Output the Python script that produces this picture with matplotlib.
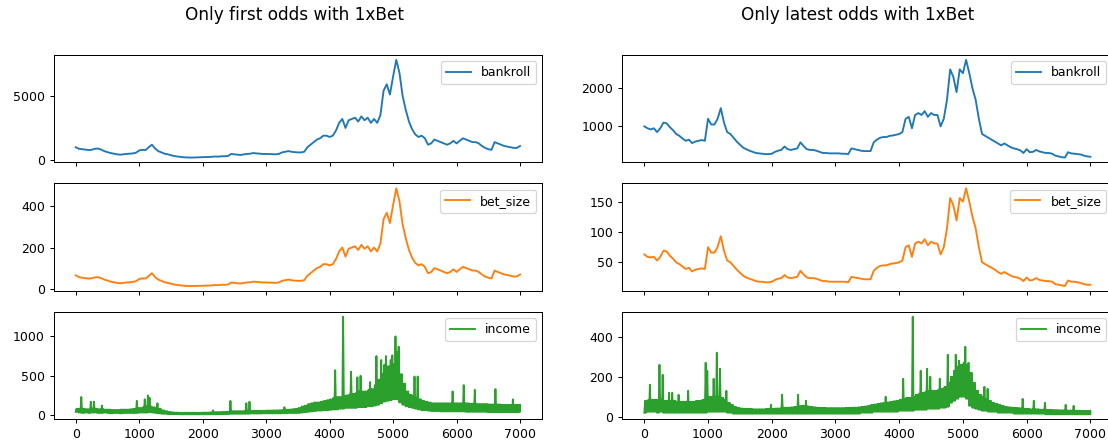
import numpy as np
import matplotlib.pyplot as plt
from matplotlib.ticker import MaxNLocator, MultipleLocator

# sample index, one reading every 50 bets
steps = np.arange(0, 7001, 50)

# ---- first odds ----
first_bankroll = [
    1000, 880, 850, 820, 780, 800, 880, 900, 820, 700, 620, 550, 500, 450, 420, 450, 480, 500, 520, 580, 750,
    800, 780, 1000, 1200, 900, 700, 600, 500, 450, 380, 320, 280, 250, 220, 210, 200, 200, 210, 220, 230,
    240, 240, 260, 280, 270, 300, 300, 320, 480, 450, 420, 400, 450, 480, 500, 550, 520, 500, 480, 480,
    470, 460, 450, 480, 600, 650, 700, 650, 620, 600, 600, 650, 1000, 1200, 1400, 1600, 1700, 1900, 1900, 1800,
    1900, 2300, 2900, 3200, 2500, 3100, 3200, 3300, 3000, 3400, 3100, 3300, 2900, 3200, 2900, 3500, 5400, 5900, 5100, 6500,
    7800, 6800, 5000, 3900, 3000, 2400, 2000, 1800, 1900, 1700, 1200, 1300, 1600, 1500, 1400, 1300, 1200, 1300, 1500, 1300,
    1500, 1700, 1600, 1500, 1400, 1400, 1300, 1100, 950, 850, 800, 1400, 1300, 1200, 1100, 1050, 1000, 950, 950, 1100,
]
first_bet_size = [
    65, 56, 53, 51, 49, 50, 55, 56, 51, 44, 39, 34, 31, 28, 26, 28, 30, 31, 33, 36, 47,
    50, 49, 62, 75, 56, 44, 38, 31, 28, 24, 20, 18, 16, 14, 13, 13, 13, 13, 14, 14,
    15, 15, 16, 18, 17, 19, 19, 20, 30, 28, 26, 25, 28, 30, 31, 34, 33, 31, 30, 30,
    29, 29, 28, 30, 38, 41, 44, 41, 39, 38, 38, 41, 63, 75, 88, 100, 106, 119, 119, 113,
    119, 144, 181, 200, 156, 194, 200, 206, 188, 213, 194, 206, 181, 200, 181, 219, 338, 369, 319, 406,
    488, 425, 313, 244, 188, 150, 125, 113, 119, 106, 75, 81, 100, 94, 88, 81, 75, 81, 94, 81,
    94, 106, 100, 94, 88, 88, 81, 69, 59, 53, 50, 88, 81, 75, 69, 66, 63, 59, 59, 69,
]
# income jumps between bets: bottom and top of the band in each window, plus single spikes
first_income_low = [
    40, 30, 25, 30, 25, 30, 30, 25, 25, 30, 25, 20, 25, 25, 20, 25, 25, 25, 25, 25, 30,
    30, 30, 35, 30, 25, 20, 15, 15, 10, 10, 10, 10, 8, 8, 8, 8, 8, 8, 8, 8,
    8, 8, 10, 10, 10, 10, 12, 12, 15, 15, 15, 15, 15, 15, 18, 18, 18, 18, 20, 20,
    20, 20, 20, 20, 22, 22, 25, 25, 25, 25, 30, 35, 40, 45, 50, 55, 55, 60, 60, 65,
    70, 70, 80, 80, 90, 90, 90, 90, 100, 100, 100, 110, 110, 120, 130, 150, 170, 180, 190, 200,
    200, 160, 130, 110, 100, 90, 80, 70, 60, 60, 55, 50, 50, 50, 45, 45, 45, 45, 45, 45,
    45, 45, 40, 40, 40, 40, 40, 40, 40, 35, 35, 35, 35, 35, 35, 35, 35, 35, 35, 40,
]
first_income_top = [
    80, 80, 80, 75, 75, 80, 80, 75, 75, 70, 70, 65, 65, 65, 70, 70, 70, 75, 80, 90, 90,
    100, 110, 110, 100, 90, 80, 60, 50, 40, 35, 32, 30, 30, 30, 30, 30, 30, 30, 30, 32,
    32, 34, 36, 38, 38, 40, 40, 42, 50, 50, 50, 50, 52, 55, 55, 55, 55, 55, 55, 58,
    58, 60, 60, 62, 65, 68, 70, 75, 80, 90, 110, 120, 140, 150, 160, 160, 170, 180, 190, 200,
    220, 230, 230, 240, 250, 260, 270, 280, 300, 300, 300, 320, 330, 380, 450, 520, 580, 620, 600, 650,
    600, 520, 400, 300, 260, 240, 220, 200, 180, 170, 160, 150, 150, 150, 150, 150, 150, 150, 150, 150,
    150, 150, 150, 145, 145, 140, 140, 140, 140, 135, 135, 135, 135, 130, 130, 130, 130, 130, 130, 130,
]
first_spike_x = [100, 250, 300, 420, 960, 1080, 1150, 1170, 1300, 2170, 2450, 2700, 2750, 3300,
                 4080, 4220, 4350, 4450, 4500, 4650, 4750, 4820, 4870, 4900, 4960, 4990, 5030,
                 5060, 5100, 5350, 5400, 5950, 6120, 6300, 6620, 6880]
first_spike_y = [230, 170, 170, 120, 180, 200, 250, 220, 150, 60, 180, 150, 170, 100,
                 570, 1250, 550, 480, 500, 420, 750, 700, 640, 750, 700, 760, 1000,
                 800, 870, 490, 490, 300, 380, 320, 330, 200]

# ---- latest odds ----
latest_bankroll = [
    1000, 950, 920, 950, 850, 950, 1100, 1080, 980, 900, 800, 750, 680, 620, 650, 560, 600, 620, 640, 620, 1200,
    1050, 1050, 1200, 1480, 1100, 850, 800, 700, 600, 520, 440, 400, 360, 330, 300, 290, 280, 270, 270, 280,
    330, 360, 380, 470, 400, 380, 400, 420, 580, 480, 400, 380, 380, 360, 330, 300, 300, 290, 290, 290,
    290, 280, 280, 270, 420, 400, 380, 360, 350, 350, 350, 580, 650, 700, 720, 720, 750, 760, 780, 800,
    850, 1200, 1250, 950, 1300, 1350, 1300, 1400, 1250, 1350, 1300, 1300, 1000, 1200, 1700, 2500, 2300, 1900, 2500, 2400,
    2750, 2400, 2000, 1700, 1200, 800, 750, 700, 650, 600, 550, 500, 550, 500, 450, 420, 400, 370, 300, 400,
    320, 330, 380, 340, 320, 300, 300, 280, 230, 210, 190, 180, 320, 290, 280, 270, 260, 230, 210, 200,
]
latest_bet_size = [
    63, 59, 58, 59, 53, 59, 69, 68, 61, 56, 50, 47, 43, 39, 41, 35, 38, 39, 40, 39, 75,
    66, 66, 75, 93, 69, 53, 50, 44, 38, 33, 28, 25, 23, 21, 19, 18, 18, 17, 17, 18,
    21, 23, 24, 29, 25, 24, 25, 26, 36, 30, 25, 24, 24, 23, 21, 19, 19, 18, 18, 18,
    18, 18, 18, 17, 26, 25, 24, 23, 22, 22, 22, 36, 41, 44, 45, 45, 47, 48, 49, 50,
    53, 75, 78, 59, 81, 84, 81, 88, 78, 84, 81, 81, 63, 75, 106, 156, 144, 119, 156, 150,
    172, 150, 125, 106, 75, 50, 47, 44, 41, 38, 34, 31, 34, 31, 28, 26, 25, 23, 19, 25,
    20, 21, 24, 21, 20, 19, 19, 18, 14, 13, 12, 11, 20, 18, 18, 17, 16, 14, 13, 13,
]
latest_income_low = [
    20, 25, 25, 25, 20, 25, 20, 20, 20, 20, 20, 20, 20, 20, 20, 20, 20, 20, 20, 20, 25,
    25, 25, 25, 25, 25, 20, 20, 15, 15, 15, 15, 15, 15, 15, 15, 15, 15, 15, 15, 15,
    15, 15, 15, 15, 15, 15, 15, 15, 15, 15, 15, 15, 15, 15, 15, 15, 15, 15, 15, 15,
    15, 15, 15, 15, 15, 15, 15, 20, 20, 20, 20, 25, 25, 25, 25, 25, 25, 25, 25, 30,
    30, 30, 30, 30, 35, 35, 35, 35, 40, 40, 40, 40, 45, 45, 50, 70, 80, 90, 100, 100,
    90, 55, 45, 40, 35, 30, 30, 25, 25, 25, 20, 20, 20, 20, 20, 15, 15, 15, 15, 15,
    15, 15, 15, 15, 15, 12, 12, 12, 12, 12, 12, 12, 12, 12, 12, 12, 12, 12, 12, 12,
]
latest_income_top = [
    80, 85, 85, 85, 85, 85, 80, 80, 80, 80, 75, 75, 75, 75, 75, 75, 80, 80, 85, 95, 100,
    100, 100, 100, 95, 85, 70, 60, 50, 45, 42, 40, 40, 40, 38, 38, 38, 38, 40, 40, 40,
    42, 42, 44, 46, 46, 48, 50, 52, 55, 55, 52, 50, 48, 46, 45, 45, 44, 44, 44, 44,
    44, 44, 45, 45, 46, 46, 48, 50, 52, 55, 60, 62, 65, 68, 70, 72, 75, 78, 80, 85,
    90, 95, 95, 100, 110, 115, 120, 125, 130, 130, 130, 135, 140, 150, 170, 200, 230, 250, 260, 270,
    260, 220, 170, 130, 110, 100, 90, 80, 70, 65, 60, 55, 50, 48, 46, 45, 44, 42, 40, 40,
    38, 38, 38, 36, 36, 35, 35, 34, 34, 33, 33, 32, 32, 32, 31, 31, 30, 30, 30, 30,
]
latest_spike_x = [100, 240, 290, 380, 440, 540, 700, 960, 1000, 1100, 1150, 1180, 1300,
                  2000, 2170, 2420, 2550, 3800, 4070, 4220, 4350, 4450, 4500, 4650, 4760,
                  4880, 4950, 5040, 5100, 5350, 5400, 5950, 6120, 6300, 6620, 6750]
latest_spike_y = [160, 260, 210, 120, 120, 110, 130, 270, 230, 190, 320, 240, 130,
                  60, 110, 110, 80, 100, 190, 500, 230, 240, 200, 190, 310,
                  310, 280, 350, 270, 150, 140, 90, 80, 70, 60, 55]

titles = ['Only first odds with 1xBet', 'Only latest odds with 1xBet']
labels = ['bankroll', 'bet_size', 'income']
colors = ['#1f77b4', '#ff7f0e', '#2ca02c']


def income_trace(low, top, spike_x, spike_y):
    # swing between bottom and top of the band twice per window, spikes replace a top point
    offs = np.array([0, 12.5, 25, 37.5])
    x = np.minimum(steps[:, None] + offs, 7000).ravel()
    y = np.column_stack([low, top, low, top]).ravel().astype(float)
    top_idx = np.arange(1, len(x), 2)
    for sx, sy in zip(spike_x, spike_y):
        i = top_idx[np.argmin(np.abs(x[top_idx] - sx))]
        y[i] = sy
    return x, y


fig = plt.figure(figsize=(1108 / 90, 446 / 90), dpi=90)
columns = [
    (0.0483, 0.4894, first_bankroll, first_bet_size,
     (first_income_low, first_income_top, first_spike_x, first_spike_y)),
    (0.5614, 1.0042, latest_bankroll, latest_bet_size,
     (latest_income_low, latest_income_top, latest_spike_x, latest_spike_y)),
]
title_x = [0.266, 0.774]

for (left, right, bank, bet, income), title, tx in zip(columns, titles, title_x):
    gs = fig.add_gridspec(3, 1, left=left, right=right, bottom=0.0599, top=0.8767, hspace=0.1955)
    axes = [fig.add_subplot(gs[0])]
    axes += [fig.add_subplot(gs[i], sharex=axes[0]) for i in (1, 2)]

    axes[0].plot(steps, bank, color=colors[0], label=labels[0])
    axes[1].plot(steps, bet, color=colors[1], label=labels[1])
    xi, yi = income_trace(*income)
    axes[2].plot(xi, yi, color=colors[2], label=labels[2])

    for ax in axes:
        ax.legend(loc='upper right')
        ax.yaxis.set_major_locator(MaxNLocator(nbins=3, steps=[1, 2, 2.5, 5, 10]))
        ax.xaxis.set_major_locator(MultipleLocator(1000))
    axes[0].set_xlim(-350, 7350)
    for ax in axes[:2]:
        ax.tick_params(labelbottom=False)

    fig.text(tx, 0.966, title, ha='center', va='center', fontsize=13.5)

fig.savefig('out.png', dpi=90)
